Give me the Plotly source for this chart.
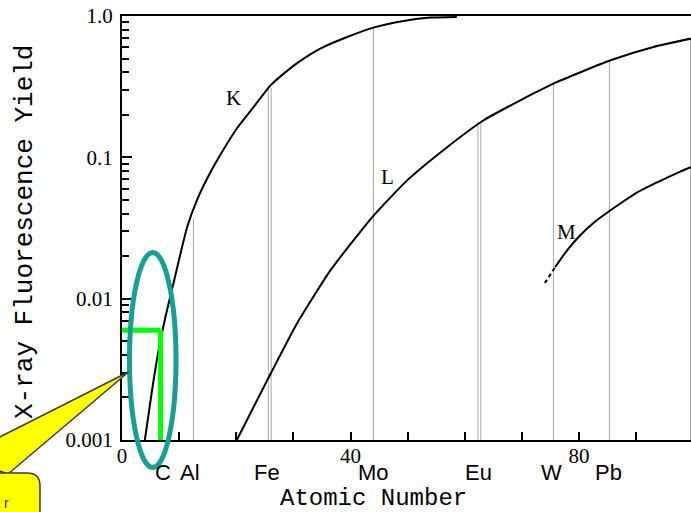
import plotly.graph_objects as go

# Fluorescence yield of the K, L and M shells against atomic number
k_z = [4.0, 5.25, 6.4, 7.6, 9.0, 11.4, 13.1, 15.2, 17.5, 20.1, 22.8, 26.0, 28.3,
       30.9, 34.7, 39.4, 44.0, 49.3, 54.0, 58.6]
k_yield = [0.001, 0.00224, 0.00431, 0.00741, 0.0128, 0.0321, 0.0496, 0.0746, 0.109,
           0.160, 0.221, 0.323, 0.391, 0.472, 0.588, 0.710, 0.828, 0.922, 0.974, 0.984]

l_z = [20.1, 25.4, 30.6, 36.5, 43.8, 49.9, 56.9, 63.3, 69.7, 75.5, 85.5, 93.0, 99.6]
l_yield = [0.001, 0.00264, 0.00665, 0.0159, 0.0378, 0.0687, 0.118, 0.183, 0.253,
           0.332, 0.486, 0.604, 0.692]

m_z = [75.8, 77.9, 80.2, 82.5, 85.3, 87.8, 90.1, 93.0, 95.4, 97.7, 99.6]
m_yield = [0.0167, 0.0220, 0.0281, 0.0343, 0.0417, 0.0489, 0.0563, 0.0647, 0.0718,
           0.0792, 0.0854]
m_ext_z = [74.0, 75.8]
m_ext_yield = [0.0129, 0.0167]

# Thin reference lines at selected elements (position, top of line)
ref_z = [12.5, 25.6, 26.1, 44.0, 62.3, 62.8, 75.5, 85.3, 99.5]
ref_top = [0.0368, 0.323, 0.31, 0.82, 0.178, 0.175, 0.341, 0.486, 0.695]

elem_names = ["C", "Al", "Fe", "Mo", "Eu", "W", "Pb"]
elem_label_z = [7.1, 11.95, 25.3, 44.1, 62.4, 75.1, 85.2]

x_tick_vals = [0, 10, 20, 30, 40, 50, 60, 70, 80, 90]
x_tick_text = ["0", "", "", "", "40", "", "", "", "80", ""]
y_tick_vals = [0.001, 0.01, 0.1, 1.0]
y_tick_text = ["0.001", "0.01", "0.1", "1.0"]
y_minor_vals = [2e-3, 3e-3, 4e-3, 5e-3, 6e-3, 7e-3, 8e-3, 9e-3,
                2e-2, 3e-2, 4e-2, 5e-2, 6e-2, 7e-2, 8e-2, 9e-2,
                0.2, 0.3, 0.4, 0.5, 0.6, 0.7, 0.8, 0.9]

# Highlighted carbon reading
carbon_z = 6.76
carbon_yield = 0.00597

SERIF = "Liberation Serif"
SANS = "Liberation Sans"
MONO = "Liberation Mono"

# plot-area geometry in pixels (used for the overlay callout)
W_FIG, H_FIG = 691, 512
M_L, M_R, M_T, M_B = 122, 0, 16, 72
PW = W_FIG - M_L - M_R
PH = H_FIG - M_T - M_B


def px(x):
    return (x - M_L) / PW


def py(y):
    return (M_T + PH - y) / PH


fig = go.Figure()

# element reference lines
gx, gy = [], []
for z, top in zip(ref_z, ref_top):
    gx += [z, z, None]
    gy += [top, 0.001, None]
fig.add_trace(go.Scatter(x=gx, y=gy, mode="lines",
                         line=dict(color="#a8a8a8", width=1), hoverinfo="skip"))

for zs, ys in ((k_z, k_yield), (l_z, l_yield), (m_z, m_yield)):
    fig.add_trace(go.Scatter(x=zs, y=ys, mode="lines",
                             line=dict(color="black", width=2, shape="spline", smoothing=0.5)))
fig.add_trace(go.Scatter(x=m_ext_z, y=m_ext_yield, mode="lines",
                         line=dict(color="black", width=2, dash="4px,3px")))

annotations = []
for name, z in zip(elem_names, elem_label_z):
    annotations.append(dict(x=z, y=py(472), xref="x", yref="paper", text=name,
                            showarrow=False, xanchor="center", yanchor="middle",
                            font=dict(family=SANS, size=22, color="black")))

for text, z, ylog in (("K", 19.5, -0.579), ("L", 46.5, -1.139), ("M", 77.8, -1.529)):
    annotations.append(dict(x=z, y=ylog, xref="x", yref="y", text=text, showarrow=False,
                            xanchor="center", yanchor="middle",
                            font=dict(family=SERIF, size=21, color="black")))

annotations.append(dict(x=px(373.3), y=py(498), xref="paper", yref="paper",
                        text="Atomic Number", showarrow=False,
                        xanchor="center", yanchor="middle",
                        font=dict(family=MONO, size=24, color="black")))
annotations.append(dict(x=px(25), y=py(232), xref="paper", yref="paper",
                        text="X-ray Fluorescence Yield", showarrow=False, textangle=-90,
                        xanchor="center", yanchor="middle",
                        font=dict(family=MONO, size=26, color="black")))
annotations.append(dict(x=px(11), y=py(503), xref="paper", yref="paper", text="r",
                        showarrow=False, xanchor="right", yanchor="middle",
                        font=dict(family=SANS, size=14, color="#333333")))

shapes = [
    # carbon reading marker
    dict(type="line", xref="x", yref="y", x0=-0.7, x1=carbon_z,
         y0=carbon_yield, y1=carbon_yield, line=dict(color="#00ff00", width=5)),
    dict(type="line", xref="x", yref="y", x0=carbon_z, x1=carbon_z,
         y0=carbon_yield, y1=0.001, line=dict(color="#00ff00", width=5)),
    # ring around the light-element region
    dict(type="circle", xref="paper", yref="paper",
         x0=px(129.5), x1=px(176), y0=py(467.5), y1=py(252.5),
         line=dict(color="#13a096", width=5)),
    # callout pointer and box
    dict(type="path", xref="paper", yref="paper",
         path=f"M {px(128.5)},{py(372)} L {px(-40)},{py(457)} L {px(8)},{py(474)} Z",
         fillcolor="#ffff00", line=dict(color="#3a3a3a", width=1.5)),
    dict(type="path", xref="paper", yref="paper",
         path=(f"M {px(-200)},{py(473)} L {px(27)},{py(473)} "
               f"Q {px(40)},{py(473)} {px(40)},{py(486)} "
               f"L {px(40)},{py(620)} L {px(-200)},{py(620)} Z"),
         fillcolor="#ffff00", line=dict(color="#3a3a3a", width=1.5)),
]

fig.update_layout(
    width=W_FIG, height=H_FIG,
    margin=dict(l=M_L, r=M_R, t=M_T, b=M_B, pad=0),
    paper_bgcolor="white", plot_bgcolor="white",
    showlegend=False,
    annotations=annotations,
    shapes=shapes,
    xaxis=dict(range=[0, (W_FIG - M_L) / 5.714], showgrid=False, zeroline=False,
               showline=True, linecolor="black", linewidth=2, mirror=True,
               ticks="inside", ticklen=8, tickwidth=1.5, tickcolor="black",
               tickmode="array", tickvals=x_tick_vals, ticktext=x_tick_text,
               ticklabelstandoff=-4,
               tickfont=dict(family=SERIF, size=21, color="black"), automargin=False),
    yaxis=dict(type="log", range=[-3, 0], showgrid=False, zeroline=False,
               showline=True, linecolor="black", linewidth=2,
               ticks="inside", ticklen=10, tickwidth=1.5, tickcolor="black",
               tickmode="array", tickvals=y_tick_vals, ticktext=y_tick_text,
               ticklabelstandoff=3,
               minor=dict(ticks="inside", ticklen=7, tickwidth=1.5, tickcolor="black",
                          tickmode="array", tickvals=y_minor_vals, showgrid=False),
               tickfont=dict(family=SERIF, size=21, color="black"), automargin=False),
)

fig.write_html("out.html")
